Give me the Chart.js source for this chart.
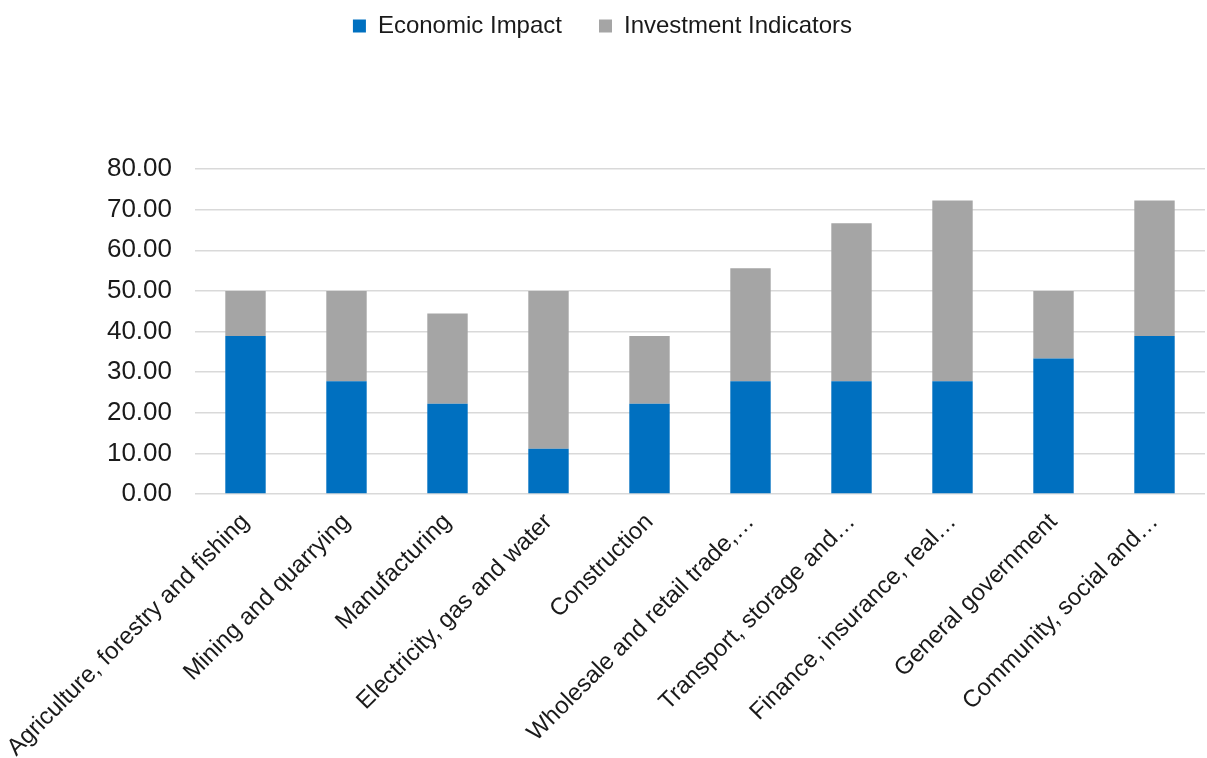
<!DOCTYPE html>
<html>
<head>
<meta charset="utf-8">
<script src="https://cdn.jsdelivr.net/npm/chart.js@4/dist/chart.umd.min.js"></script>
<style>
  html, body { margin: 0; padding: 0; background: #fff; overflow: hidden; }
  #wrap { position: relative; width: 1207px; height: 758px; overflow: hidden; }
  #myChart { position: absolute; left: 0; top: -23px; }
</style>
</head>
<body>
<div id="wrap"><canvas id="myChart" width="1207" height="781"></canvas></div>
<script>
// sectors (long names cut short the way the axis shows them)
var sectors = [
  'Agriculture, forestry and fishing',
  'Mining and quarrying',
  'Manufacturing',
  'Electricity, gas and water',
  'Construction',
  'Wholesale and retail trade,\u2026',
  'Transport, storage and\u2026',
  'Finance, insurance, real\u2026',
  'General government',
  'Community, social and\u2026'
];
var economicImpact = [38.89, 27.78, 22.22, 11.11, 22.22, 27.78, 27.78, 27.78, 33.33, 38.89];
var investmentIndicators = [11.11, 22.22, 22.22, 38.89, 16.67, 27.78, 38.89, 44.44, 16.67, 33.33];
var yTicks = [0, 10, 20, 30, 40, 50, 60, 70, 80];

var FONT = "'Liberation Sans', Arial, sans-serif";
var TEXT = '#1a1a1a';

// push the plot down below the legend
var legendSpacer = {
  id: 'legendSpacer',
  beforeInit: function (chart) {
    var fit = chart.legend.fit;
    chart.legend.fit = function () {
      fit.bind(chart.legend)();
      this.height = 192;
    };
  }
};

var myData = {
  labels: sectors,
  datasets: [{
    label: 'Economic Impact',
    data: economicImpact,
    backgroundColor: '#0070c0',
    borderWidth: 0,
    barPercentage: 0.4,
    categoryPercentage: 1.0
  }, {
    label: 'Investment Indicators',
    data: investmentIndicators,
    backgroundColor: '#a5a5a5',
    borderWidth: 0,
    barPercentage: 0.4,
    categoryPercentage: 1.0
  }]
};

var myConfig = {
  type: 'bar',
  data: myData,
  options: {
    responsive: false,
    animation: false,
    layout: { padding: { left: 0, right: 2, top: 0, bottom: 0 } },
    plugins: {
      legend: {
        position: 'top',
        align: 'center',
        labels: {
          boxWidth: 13,
          boxHeight: 13,
          padding: 37,
          color: TEXT,
          font: { family: FONT, size: 24 }
        }
      },
      tooltip: { enabled: false }
    },
    scales: {
      x: {
        stacked: true,
        grid: { display: false },
        border: { display: false },
        ticks: {
          autoSkip: false,
          minRotation: 45,
          maxRotation: 45,
          padding: 6,
          color: TEXT,
          font: { family: FONT, size: 24 }
        },
        afterFit: function (scale) {
          scale.height = 264;
          // let the slanted first label run past the left edge of the plot
          scale.paddingLeft = 0;
          scale.paddingRight = 0;
        }
      },
      y: {
        stacked: true,
        min: 0,
        max: 80,
        afterBuildTicks: function (scale) {
          scale.ticks = yTicks.map(function (v) { return { value: v }; });
        },
        grid: { color: '#d9d9d9', lineWidth: 1.5, drawTicks: false },
        border: { display: false },
        ticks: {
          padding: 23,
          color: TEXT,
          font: { family: FONT, size: 26 },
          callback: function (v) { return Number(v).toFixed(2); }
        },
        afterFit: function (scale) { scale.width = 195; }
      }
    }
  },
  plugins: [legendSpacer]
};

var ctx1 = document.getElementById('myChart').getContext('2d');
var myBar = new Chart(ctx1, myConfig);
</script>
</body>
</html>
